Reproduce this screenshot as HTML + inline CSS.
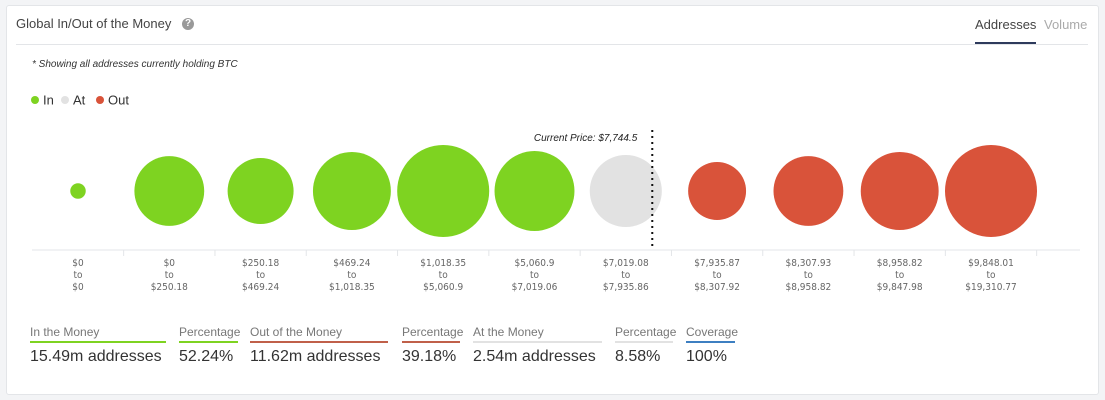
<!DOCTYPE html>
<html><head><meta charset="utf-8"><style>
body{margin:0;width:1105px;height:400px;background:#f3f4f6;font-family:"Liberation Sans",sans-serif;overflow:hidden}
#card{position:absolute;left:6px;top:5px;width:1091px;height:388px;background:#fff;border:1px solid #e3e5e8;border-radius:3px}
.t{position:absolute;white-space:nowrap}
</style></head><body>
<div id="card"></div>
<div class="t" style="left:16px;top:16px;font-size:13px;color:#444">Global In/Out of the Money</div>
<div class="t" style="left:182px;top:18px;width:12px;height:12px;border-radius:50%;background:#999;color:#fff;font-size:10px;font-weight:bold;text-align:center;line-height:12px">?</div>
<div class="t" style="left:975px;top:17px;font-size:13px;color:#444">Addresses</div>
<div class="t" style="left:1044px;top:17px;font-size:13px;color:#aaa">Volume</div>
<div class="t" style="left:16px;top:44px;width:1072px;height:1px;background:#e3e5e8"></div>
<div class="t" style="left:975px;top:42px;width:61px;height:2px;background:#2e3a5c"></div>
<div class="t" style="left:32px;top:59px;font-size:10px;font-style:italic;color:#333">* Showing all addresses currently holding BTC</div>
<svg class="t" style="left:0;top:0" width="1105" height="400" id="svg"></svg>
<script>
const categories=["$0|to|$0","$0|to|$250.18","$250.18|to|$469.24","$469.24|to|$1,018.35","$1,018.35|to|$5,060.9","$5,060.9|to|$7,019.06","$7,019.08|to|$7,935.86","$7,935.87|to|$8,307.92","$8,307.93|to|$8,958.82","$8,958.82|to|$9,847.98","$9,848.01|to|$19,310.77"];
const values=[0.06,1.22,1.09,1.52,2.12,1.6,1.3,0.84,1.22,1.52,2.12];
const status=["in","in","in","in","in","in","at","out","out","out","out"];
const currentPrice="$7,744.5";
const currentPriceIndex=6.29;
const NS="http://www.w3.org/2000/svg",svg=document.getElementById('svg');
const colors={in:"#7ed321",at:"#e2e2e2",out:"#d9533a"};
const x0=78,step=91.3,cy=191;
const xs=i=>x0+i*step;
const rs=v=>Math.sqrt(v)*31.6;
function mk(tag,a,txt){const e=document.createElementNS(NS,tag);for(const k in a)e.setAttribute(k,a[k]);if(txt!=null)e.textContent=txt;svg.appendChild(e);return e;}
let e=mk('line',{x1:32,x2:1080,y1:250,y2:250,stroke:'#e3e5e8'});

categories.forEach((c,i)=>{
  const cx=xs(i);
  let t=mk('line',{x1:cx+step/2,x2:cx+step/2,y1:250,y2:256,stroke:'#e3e5e8'});
  
  let b=mk('circle',{cx:cx,cy:cy,r:Math.max(rs(values[i]),0),fill:colors[status[i]]});
  
  c.split('|').forEach((s,j)=>{
    let l=mk('text',{x:cx,y:266+j*12,'text-anchor':'middle','font-size':'10','fill':'#666','font-family':'DejaVu Sans Condensed, Liberation Sans, sans-serif'},s);
    
  });
});
const px=xs(currentPriceIndex);
e=mk('line',{x1:px,x2:px,y1:130,y2:246,stroke:'#111','stroke-width':2,'stroke-dasharray':'2 4'});

e=mk('text',{x:px-15,y:141,'text-anchor':'end','font-size':'10','font-style':'italic',fill:'#222'},'Current Price: '+currentPrice);

[["In","#7ed321",32],["At","#e2e2e2",62],["Out","#d9533a",97]].forEach(([n,c,x])=>{
  let g=mk('circle',{cx:x+3,cy:100,r:4,fill:c});
  let t=mk('text',{x:x+11,y:104.5,'font-size':'13',fill:'#333'},n);
});
</script>
<div>
<div class="t" style="left:30px;top:325px;width:136px;font-size:12px;color:#777;border-bottom:2px solid #7ed321;padding-bottom:2px">In the Money</div>
<div class="t" style="left:30px;top:348px;font-size:16px;color:#333">15.49m addresses</div>
<div class="t" style="left:179px;top:325px;width:59px;font-size:12px;color:#777;border-bottom:2px solid #7ed321;padding-bottom:2px">Percentage</div>
<div class="t" style="left:179px;top:348px;font-size:16px;color:#333">52.24%</div>
<div class="t" style="left:250px;top:325px;width:138px;font-size:12px;color:#777;border-bottom:2px solid #c0604a;padding-bottom:2px">Out of the Money</div>
<div class="t" style="left:250px;top:348px;font-size:16px;color:#333">11.62m addresses</div>
<div class="t" style="left:402px;top:325px;width:58px;font-size:12px;color:#777;border-bottom:2px solid #c0604a;padding-bottom:2px">Percentage</div>
<div class="t" style="left:402px;top:348px;font-size:16px;color:#333">39.18%</div>
<div class="t" style="left:473px;top:325px;width:129px;font-size:12px;color:#777;border-bottom:2px solid #e2e2e2;padding-bottom:2px">At the Money</div>
<div class="t" style="left:473px;top:348px;font-size:16px;color:#333">2.54m addresses</div>
<div class="t" style="left:615px;top:325px;width:58px;font-size:12px;color:#777;border-bottom:2px solid #e2e2e2;padding-bottom:2px">Percentage</div>
<div class="t" style="left:615px;top:348px;font-size:16px;color:#333">8.58%</div>
<div class="t" style="left:686px;top:325px;width:49px;font-size:12px;color:#777;border-bottom:2px solid #3d7fc1;padding-bottom:2px">Coverage</div>
<div class="t" style="left:686px;top:348px;font-size:16px;color:#333">100%</div>
</div>
</body></html>
